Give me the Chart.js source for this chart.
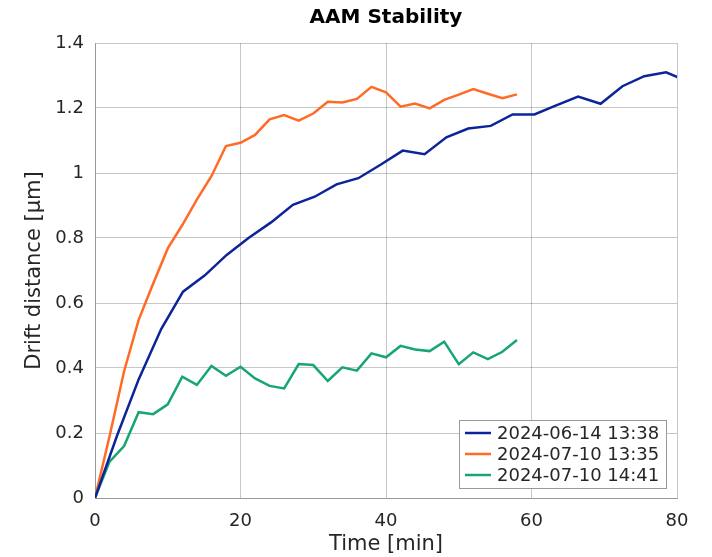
<!DOCTYPE html>
<html>
<head>
<meta charset="utf-8">
<script src="https://cdn.jsdelivr.net/npm/chart.js@4/dist/chart.umd.min.js"></script>
<style>
  html, body { margin: 0; padding: 0; background: #fff; }
  #wrap { width: 712px; height: 557px; }
</style>
</head>
<body>
<div id="wrap"><canvas id="chart" width="712" height="557"></canvas></div>
<script>
// series (time in minutes, drift in µm)
const labelsSeries = ['2024-06-14 13:38', '2024-07-10 13:35', '2024-07-10 14:41'];
const colors = ['#0d2498', '#ff6b26', '#17a672'];

const timeA = [0, 3.0, 6.0, 9.1, 12.1, 15.1, 18.1, 21.1, 24.2, 27.2, 30.2, 33.2, 36.2, 39.3,
               42.3, 45.3, 48.3, 51.3, 54.4, 57.4, 60.4, 63.4, 66.4, 69.5, 72.5, 75.5, 78.5, 81.5];
const driftA = [0, 0.19, 0.365, 0.52, 0.635, 0.685, 0.748, 0.80, 0.848, 0.902, 0.927, 0.965, 0.984, 1.026,
                1.069, 1.058, 1.11, 1.137, 1.145, 1.18, 1.18, 1.208, 1.235, 1.213, 1.267, 1.298, 1.31, 1.282];

const timeB = [0, 2, 4, 6, 8, 10, 12, 14, 16, 18, 20, 22, 24, 26, 28, 30, 32, 34, 36, 38,
               40, 42, 44, 46, 48, 50, 52, 54, 56, 58];
const driftB = [0, 0.19, 0.39, 0.548, 0.66, 0.768, 0.84, 0.918, 0.99, 1.083, 1.093, 1.117, 1.165, 1.178,
                1.161, 1.183, 1.219, 1.217, 1.228, 1.265, 1.248, 1.204, 1.214, 1.199, 1.225, 1.241,
                1.258, 1.244, 1.23, 1.242];

const timeC = [0, 2, 4, 6, 8, 10, 12, 14, 16, 18, 20, 22, 24, 26, 28, 30, 32, 34, 36, 38,
               40, 42, 44, 46, 48, 50, 52, 54, 56, 58];
const driftC = [0, 0.112, 0.16, 0.264, 0.258, 0.288, 0.373, 0.348, 0.406, 0.376, 0.404, 0.368, 0.345, 0.337,
                0.412, 0.409, 0.36, 0.402, 0.392, 0.445, 0.433, 0.468, 0.457, 0.452, 0.481, 0.412,
                0.448, 0.427, 0.45, 0.486];

const xTicks = [0, 20, 40, 60, 80];
const yTicks = [0, 0.2, 0.4, 0.6, 0.8, 1, 1.2, 1.4];

const FONT = "'DejaVu Sans', Verdana, sans-serif";
const TEXT = '#262626';
const GRID = 'rgba(0,0,0,0.22)';

function toPoints(xs, ys) {
    return xs.map((x, i) => ({ x: x, y: ys[i] }));
}

// legend box drawn inside the plot, lower right
const boxLegend = {
    id: 'boxLegend',
    afterDatasetsDraw(chart) {
        const { ctx, chartArea } = chart;
        const w = 207, h = 68;
        const left = chartArea.right - 11 - w;
        const top = chartArea.bottom - 10 - h;
        ctx.save();
        ctx.fillStyle = '#fff';
        ctx.fillRect(left, top, w, h);
        ctx.strokeStyle = '#999';
        ctx.lineWidth = 1;
        ctx.strokeRect(left + 0.5, top + 0.5, w, h);
        ctx.font = '18px ' + FONT;
        ctx.textBaseline = 'middle';
        ctx.fillStyle = TEXT;
        chart.data.datasets.forEach((ds, i) => {
            const y = top + 13 + i * 21;
            ctx.strokeStyle = ds.borderColor;
            ctx.lineWidth = 2.5;
            ctx.beginPath();
            ctx.moveTo(left + 6, y);
            ctx.lineTo(left + 32, y);
            ctx.stroke();
            ctx.fillText(ds.label, left + 38, y + 1);
        });
        ctx.restore();
    }
};

const ctx = document.getElementById('chart').getContext('2d');
new Chart(ctx, {
    type: 'line',
    data: {
        datasets: [
            { label: labelsSeries[0], data: toPoints(timeA, driftA), borderColor: colors[0] },
            { label: labelsSeries[1], data: toPoints(timeB, driftB), borderColor: colors[1] },
            { label: labelsSeries[2], data: toPoints(timeC, driftC), borderColor: colors[2] }
        ]
    },
    options: {
        responsive: false,
        animation: false,
        layout: { padding: { left: 0, right: 35, top: 0, bottom: 0 } },
        elements: {
            line: { borderWidth: 2.5, tension: 0, fill: false },
            point: { radius: 0 }
        },
        plugins: {
            legend: { display: false },
            tooltip: { enabled: false },
            title: {
                display: true,
                text: 'AAM Stability',
                fullSize: false,
                color: '#000',
                font: { family: FONT, size: 20, weight: 'bold' },
                padding: { top: 6, bottom: 13 }
            }
        },
        scales: {
            x: {
                type: 'linear',
                min: 0,
                max: 80,
                afterBuildTicks: axis => { axis.ticks = xTicks.map(v => ({ value: v })); },
                afterFit: axis => { axis.height = 59; },
                grid: { color: GRID, drawTicks: false },
                border: { color: '#999' },
                ticks: { color: TEXT, font: { family: FONT, size: 18 }, padding: 13, maxRotation: 0 },
                title: {
                    display: true,
                    text: 'Time [min]',
                    color: TEXT,
                    font: { family: FONT, size: 21 },
                    padding: { top: 0, bottom: 0 }
                }
            },
            y: {
                type: 'linear',
                min: 0,
                max: 1.4,
                afterBuildTicks: axis => { axis.ticks = yTicks.map(v => ({ value: v })); },
                afterFit: axis => { axis.width = 95; },
                grid: { color: GRID, drawTicks: false },
                border: { color: '#999' },
                ticks: {
                    color: TEXT,
                    font: { family: FONT, size: 18 },
                    padding: 11,
                    callback: v => String(Number(v.toFixed(2)))
                },
                title: {
                    display: true,
                    text: 'Drift distance [µm]',
                    color: TEXT,
                    font: { family: FONT, size: 21 },
                    padding: { top: 22, bottom: 0 }
                }
            }
        }
    },
    plugins: [boxLegend]
});
</script>
</body>
</html>
